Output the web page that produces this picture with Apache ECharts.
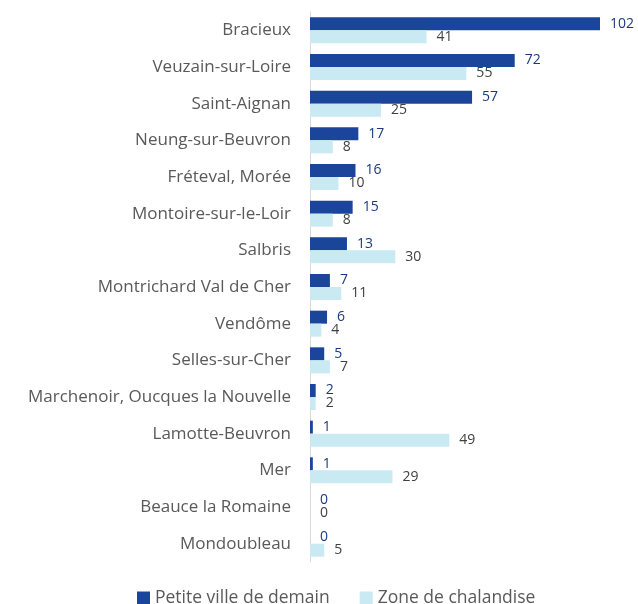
<!DOCTYPE html>
<html>
<head>
<meta charset="utf-8">
<script src="https://cdn.jsdelivr.net/npm/echarts@6/dist/echarts.min.js"></script>
<style>
  html, body { margin: 0; padding: 0; background: #fff; }
  #chart { width: 638px; height: 604px; }
</style>
</head>
<body>
<div id="chart"></div>
<script>
var communes = ['Bracieux', 'Veuzain-sur-Loire', 'Saint-Aignan', 'Neung-sur-Beuvron', 'Fréteval, Morée',
  'Montoire-sur-le-Loir', 'Salbris', 'Montrichard Val de Cher', 'Vendôme', 'Selles-sur-Cher',
  'Marchenoir, Oucques la Nouvelle', 'Lamotte-Beuvron', 'Mer', 'Beauce la Romaine', 'Mondoubleau']
var petiteVille = [102, 72, 57, 17, 16, 15, 13, 7, 6, 5, 2, 1, 1, 0, 0]
var zoneChalandise = [41, 55, 25, 8, 10, 8, 30, 11, 4, 7, 2, 49, 29, 0, 5]

var font = 'Open Sans'
var myChart = echarts.init(document.getElementById('chart'))

var option = {
  animation: false,
  textStyle: { fontFamily: font },
  grid: { left: 310, right: 38, top: 12, bottom: 42 },
  legend: {
    top: 589,
    left: 137,
    padding: 0,
    itemWidth: 13,
    itemHeight: 13,
    itemGap: 30,
    icon: 'rect',
    textStyle: { fontFamily: font, fontSize: 17.5, color: '#595959' },
    data: ['Petite ville de demain', 'Zone de chalandise']
  },
  xAxis: {
    type: 'value',
    min: 0,
    max: 102,
    show: false
  },
  yAxis: {
    type: 'category',
    inverse: true,
    data: communes,
    axisTick: { show: false },
    axisLine: { show: true, lineStyle: { color: '#d9d9d9', width: 1 } },
    axisLabel: { margin: 19, fontSize: 17, color: '#595959', fontFamily: font }
  },
  series: [
    {
      name: 'Petite ville de demain',
      type: 'bar',
      data: petiteVille,
      barWidth: 13,
      barGap: '0%',
      itemStyle: { color: '#1a459b' },
      label: { show: true, position: 'right', distance: 10, fontSize: 14, color: '#1a3a80', fontFamily: font }
    },
    {
      name: 'Zone de chalandise',
      type: 'bar',
      data: zoneChalandise,
      barWidth: 13,
      itemStyle: { color: '#c9e9f3' },
      label: { show: true, position: 'right', distance: 10, fontSize: 14, color: '#404040', fontFamily: font }
    }
  ]
}
myChart.setOption(option)
</script>
</body>
</html>
